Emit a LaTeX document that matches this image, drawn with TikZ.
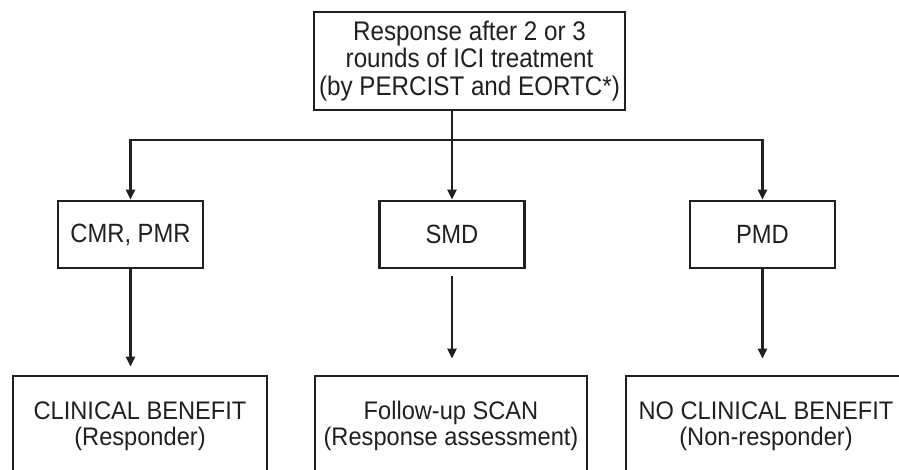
\documentclass[tikz,border=0pt]{standalone}
\usepackage{fontspec}
\setmainfont{Liberation Sans}[FakeStretch=0.9]
\newfontfamily\lowfont{Liberation Sans}[FakeStretch=0.93]
\usetikzlibrary{arrows.meta}
\definecolor{ink}{HTML}{231F20}

\begin{document}
\begin{tikzpicture}[x=1bp,y=-1bp,
		box/.style={draw=ink, line width=2.8bp, text=ink, align=center, inner sep=0pt},
		mid/.style={minimum width=145bp, minimum height=67bp, font=\fontsize{26.5}{28}\selectfont},
		low/.style={minimum height=100bp, font=\lowfont\fontsize{25.5}{26}\selectfont},
		link/.style={draw=ink, line width=2.8bp, -{Triangle[length=10bp,width=9bp]}}]
					\clip (0,0) rectangle (899,470);
					\node[box, minimum width=311bp, minimum height=98bp, font=\fontsize{27}{28}\selectfont] (resp) at (469.5,61) {Response after 2 or 3\\rounds of ICI treatment\\(by PERCIST and EORTC*)};
					\node[box, mid] (cmr) at (130.5,234.5) {CMR, PMR};
					\node[box, mid] (smd) at (452,234.5) {SMD};
					\node[box, mid] (pmd) at (762.5,234.5) {PMD};
					\node[box, low, minimum width=254bp] (clin) at (140,426) {CLINICAL BENEFIT\\(Responder)};
					\node[box, low, minimum width=272bp] (scan) at (451,426) {Follow-up SCAN\\(Response assessment)};
					\node[box, low, minimum width=280bp] (noclin) at (766,426) {NO CLINICAL BENEFIT\\(Non-responder)};
					\coordinate (split) at (452,140);
					\draw[draw=ink, line width=2.8bp] (resp.south -| split) -- (split);
					\draw[link] (split) -| (cmr);
					\draw[link] (split) -| (pmd);
					\draw[link] (split) -- (smd);
					\draw[link, shorten >=8bp] (cmr) -- (cmr |- clin.north);
					\draw[link, shorten <=7bp, shorten >=16bp] (smd) -- (smd |- scan.north);
					\draw[link, shorten >=16bp] (pmd) -- (pmd |- noclin.north);
					\end{tikzpicture}
\end{document}
